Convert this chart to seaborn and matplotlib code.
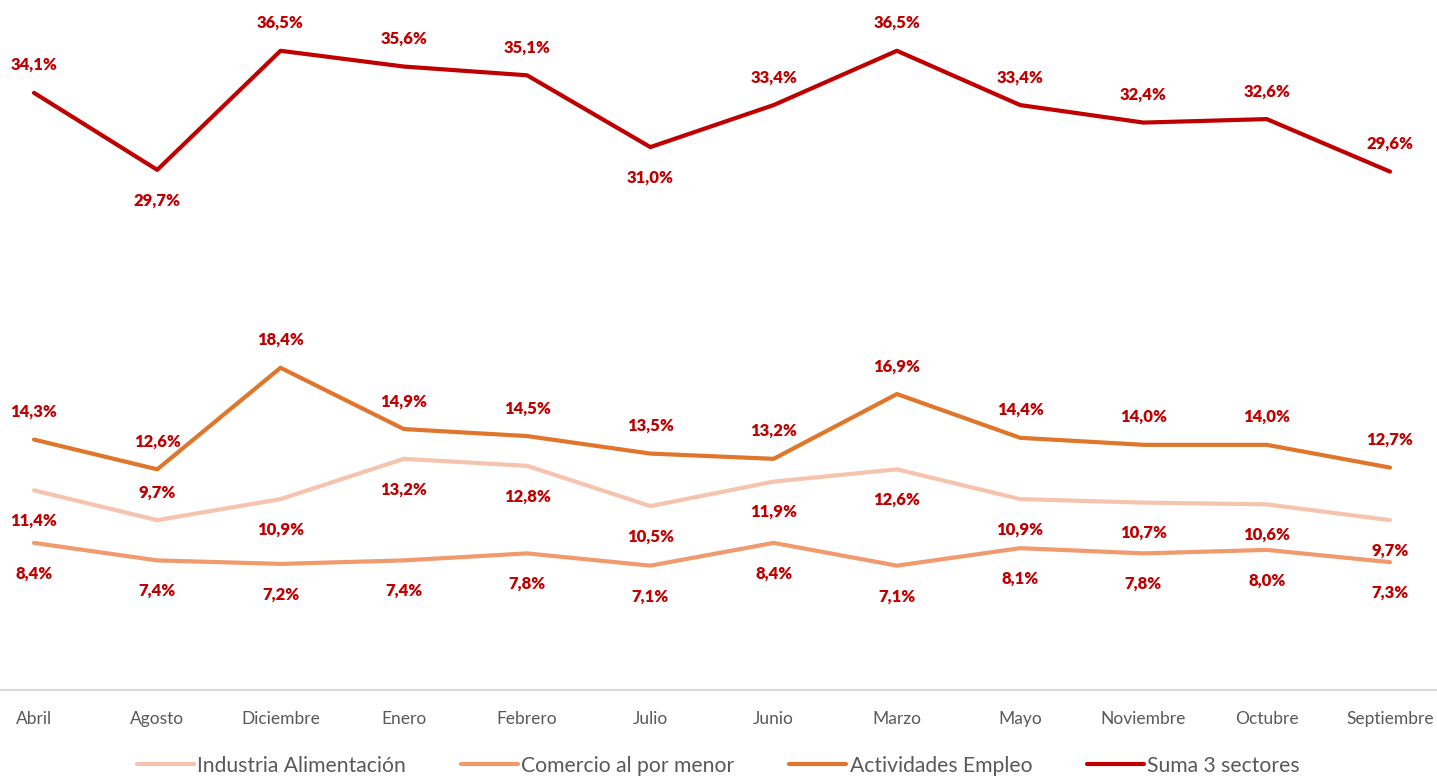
import numpy as np
import pandas as pd
import seaborn as sns
import matplotlib.pyplot as plt

sns.set_style('white')
plt.rcParams['font.family'] = ['Lato', 'DejaVu Sans']

# 데이터 ===============================================
meses = ['Abril', 'Agosto', 'Diciembre', 'Enero', 'Febrero', 'Julio',
         'Junio', 'Marzo', 'Mayo', 'Noviembre', 'Octubre', 'Septiembre']

industria = [11.4, 9.7, 10.9, 13.2, 12.8, 10.5, 11.9, 12.6, 10.9, 10.7, 10.6, 9.7]
comercio = [8.4, 7.4, 7.2, 7.4, 7.8, 7.1, 8.4, 7.1, 8.1, 7.8, 8.0, 7.3]
actividades = [14.3, 12.6, 18.4, 14.9, 14.5, 13.5, 13.2, 16.9, 14.4, 14.0, 14.0, 12.7]
suma = [34.1, 29.7, 36.5, 35.6, 35.1, 31.0, 33.4, 36.5, 33.4, 32.4, 32.6, 29.6]

series = [
    ('Industria Alimentación', industria, '#F6C3AE'),
    ('Comercio al por menor', comercio, '#F09A6E'),
    ('Actividades Empleo', actividades, '#E0762B'),
    ('Suma 3 sectores', suma, '#C00000'),
]

# 라벨 위치 (1 = 위, -1 = 아래)
lado = {
    'Industria Alimentación': [-1, 1, -1, -1, -1, -1, -1, -1, -1, -1, -1, -1],
    'Comercio al por menor': [-1] * 12,
    'Actividades Empleo': [1] * 12,
    'Suma 3 sectores': [1, -1, 1, 1, 1, -1, 1, 1, 1, 1, 1, 1],
}

fig = plt.figure(figsize=(14.37, 7.76), dpi=100)
ax = fig.add_axes([0, 1 - 690 / 776, 1, 690 / 776])

x = np.arange(len(meses))
for nombre, vals, color in series:
    sns.lineplot(x=x, y=vals, color=color, lw=3, label=nombre, ax=ax)
    for xi, v, s in zip(x, vals, lado[nombre]):
        off = 20 if s > 0 else -22
        ax.annotate(f'{v:.1f}%'.replace('.', ','), (xi, v), xytext=(0, off),
                    textcoords='offset points', ha='center', va='center',
                    color='#C00000', fontsize=12, fontweight='heavy')

ax.set_xlim(-34 / 123.3, 11 + 47 / 123.3)
ax.set_ylim(0, 39.4)
ax.set_xticks(x)
ax.set_xticklabels(meses, color='#595959', fontsize=12.5)
ax.tick_params(axis='x', length=0, pad=15)
ax.set_yticks([])
ax.set_xlabel('')
ax.set_ylabel('')
for s in ['top', 'left', 'right']:
    ax.spines[s].set_visible(False)
ax.spines['bottom'].set_color('#D9D9D9')
ax.spines['bottom'].set_linewidth(1.5)

leg = ax.legend(loc='lower center', bbox_to_anchor=(0.5, -0.152), ncol=4,
                frameon=False, fontsize=15.2, handlelength=2.7,
                handletextpad=0.15, columnspacing=2.6)
for t in leg.get_texts():
    t.set_color('#595959')

fig.savefig('out.png', dpi=100)
